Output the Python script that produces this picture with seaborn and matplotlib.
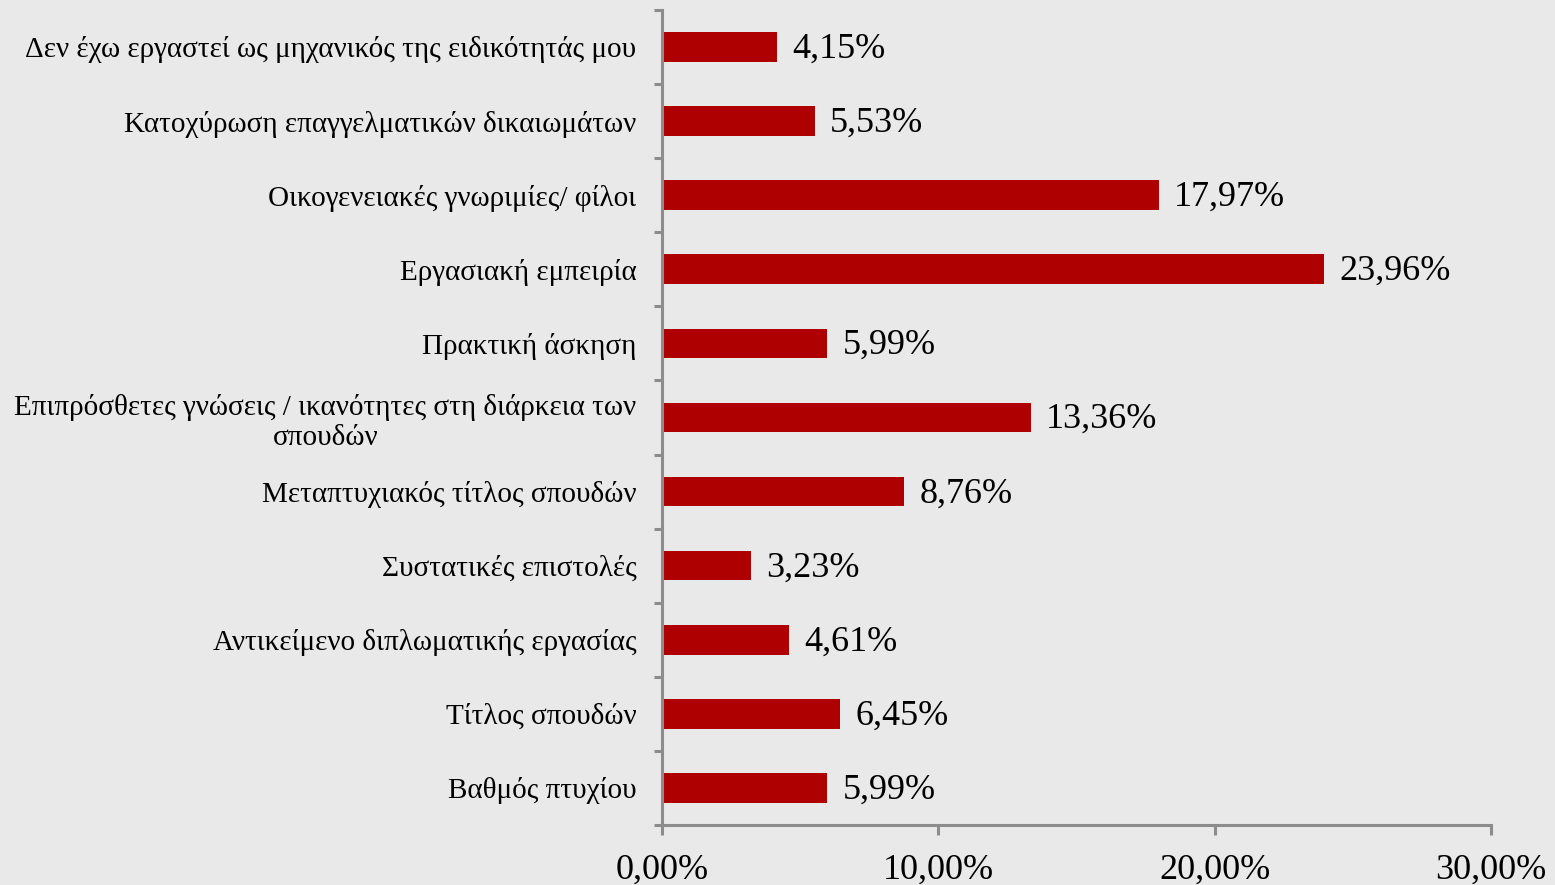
import numpy as np
import matplotlib
matplotlib.use("Agg")
import matplotlib.pyplot as plt
import pandas as pd
import seaborn as sns

categories = [
    "Δεν έχω εργαστεί ως μηχανικός της ειδικότητάς μου",
    "Κατοχύρωση επαγγελματικών δικαιωμάτων",
    "Οικογενειακές γνωριμίες/ φίλοι",
    "Εργασιακή εμπειρία",
    "Πρακτική άσκηση",
    "Επιπρόσθετες γνώσεις / ικανότητες στη διάρκεια των\nσπουδών",
    "Μεταπτυχιακός τίτλος σπουδών",
    "Συστατικές επιστολές",
    "Αντικείμενο διπλωματικής εργασίας",
    "Τίτλος σπουδών",
    "Βαθμός πτυχίου",
]
values = [4.15, 5.53, 17.97, 23.96, 5.99, 13.36, 8.76, 3.23, 4.61, 6.45, 5.99]
xticks = [0, 10, 20, 30]

bg = "#e9e9e9"
bar_color = "#ae0000"
axis_color = "#8c8c8c"

sns.set_style("white")
plt.rcParams["font.family"] = ["Liberation Serif", "DejaVu Serif"]
plt.rcParams["text.color"] = "black"
plt.rcParams["xtick.color"] = axis_color
plt.rcParams["ytick.color"] = axis_color

df = pd.DataFrame({"cat": categories, "val": values})

fig = plt.figure(figsize=(15.55, 8.85), dpi=100, facecolor=bg)
ax = fig.add_axes([0.4257, 0.0678, 0.5331, 0.921])
ax.set_facecolor(bg)

sns.barplot(data=df, x="val", y="cat", order=categories, color=bar_color,
            saturation=1, width=0.4, linewidth=0, ax=ax)

for i, v in enumerate(values):
    ax.text(v + 0.55, i + 0.03, f"{v:.2f}%".replace(".", ","), va="center", ha="left",
            fontsize=26, color="black")

ax.set_xlim(0, 30)
ax.set_ylim(len(categories) - 0.5, -0.5)
ax.set_xticks(xticks)
ax.set_xticklabels([f"{t:.2f}%".replace(".", ",") for t in xticks], fontsize=26)
ax.set_yticks(range(len(categories)))
ax.set_yticklabels(categories, fontsize=21)
for lab in ax.get_yticklabels():
    lab.set_multialignment("center")
    lab.set_color("black")
for lab in ax.get_xticklabels():
    lab.set_color("black")
ax.set_yticks(np.arange(-0.5, len(categories), 1), minor=True)
ax.tick_params(axis="y", which="major", left=False, length=0, pad=18.5)
ax.tick_params(axis="y", which="minor", left=True, length=6, width=2.2,
               color=axis_color)
ax.tick_params(axis="x", bottom=True, length=7, width=2.2, color=axis_color,
               pad=14)
ax.set_xlabel("")
ax.set_ylabel("")

for s in ["top", "right"]:
    ax.spines[s].set_visible(False)
for s in ["left", "bottom"]:
    ax.spines[s].set_color(axis_color)
    ax.spines[s].set_linewidth(2.2)

fig.savefig("out.png", dpi=100, facecolor=bg)
